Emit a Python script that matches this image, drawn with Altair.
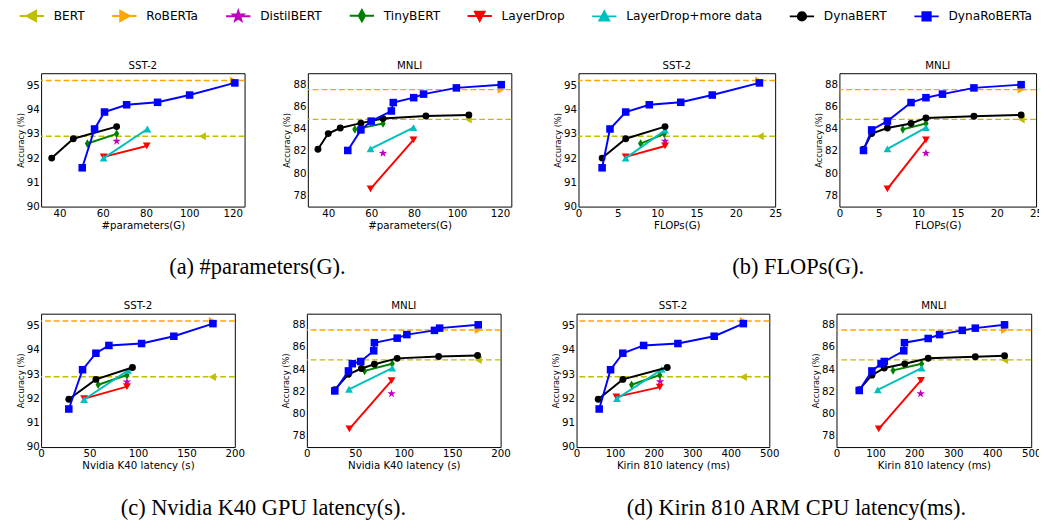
import altair as alt
import pandas as pd

MODELS = ["BERT", "RoBERTa", "DistilBERT", "TinyBERT", "LayerDrop",
          "LayerDrop+more data", "DynaBERT", "DynaRoBERTa"]
COLORS = ["#bfbf00", "#ffa500", "#bf00bf", "#008000", "#ff0000",
          "#00bfbf", "#000000", "#0000ff"]
STAR = ("M0,-1L0.235,-0.324L0.951,-0.309L0.38,0.124L0.588,0.809L0,0.4"
        "L-0.588,0.809L-0.38,0.124L-0.951,-0.309L-0.235,-0.324Z")
THIN_DIAMOND = "M0,-1L0.6,0L0,1L-0.6,0Z"
SHAPES = ["triangle-left", "triangle-right", STAR, THIN_DIAMOND,
          "triangle-down", "triangle-up", "circle", "square"]
SIZES = [70, 70, 80, 80, 65, 65, 50, 60]

# legend handles: a short line with the marker in its middle
HANDLE = "M-1,0L1,0"
LEGEND_SHAPES = [
    HANDLE + "M-0.42,0L0.34,-0.42L0.34,0.42Z",
    HANDLE + "M0.42,0L-0.34,-0.42L-0.34,0.42Z",
    HANDLE + ("M0,-0.44L0.1,-0.14L0.42,-0.14L0.17,0.05L0.26,0.36L0,0.18"
              "L-0.26,0.36L-0.17,0.05L-0.42,-0.14L-0.1,-0.14Z"),
    HANDLE + "M0,-0.46L0.26,0L0,0.46L-0.26,0Z",
    HANDLE + "M-0.4,-0.34L0.4,-0.34L0,0.42Z",
    HANDLE + "M-0.4,0.34L0.4,0.34L0,-0.42Z",
    HANDLE + "M-0.34,0A0.34,0.34,0,1,0,0.34,0A0.34,0.34,0,1,0,-0.34,0Z",
    HANDLE + "M-0.34,-0.34L0.34,-0.34L0.34,0.34L-0.34,0.34Z",
]

# baselines (BERT, RoBERTa) accuracy
SST2_BASE = [92.9, 95.2]
MNLI_BASE = [84.85, 87.53]

# (a) SST-2 vs #parameters
PARAMS_SST2 = {
    "BERT": ([106], [92.9]),
    "RoBERTa": ([120.3], [95.2]),
    "DistilBERT": ([66.4], [92.7]),
    "TinyBERT": ([52.9, 66.4], [92.6, 93.0]),
    "LayerDrop": ([60.4, 80.3], [92.05, 92.5]),
    "LayerDrop+more data": ([60.4, 80.6], [92.0, 93.2]),
    "DynaBERT": ([36.4, 46.4, 66.4], [92.0, 92.8, 93.3]),
    "DynaRoBERTa": ([50.5, 56.2, 60.8, 71, 85.3, 100.1, 121],
                    [91.6, 93.2, 93.9, 94.2, 94.3, 94.6, 95.1]),
}
# (a) MNLI vs #parameters
PARAMS_MNLI = {
    "BERT": ([105.2], [84.85]),
    "RoBERTa": ([120.6], [87.53]),
    "DistilBERT": ([65.5], [81.8]),
    "TinyBERT": ([52.4, 65.5], [83.95, 84.48]),
    "LayerDrop": ([59.7, 79.7], [78.6, 83.0]),
    "LayerDrop+more data": ([59.7, 79.7], [82.2, 84.1]),
    "DynaBERT": ([35.2, 40, 45.6, 55.2, 65.5, 85.5, 105.5],
                 [82.16, 83.57, 84.07, 84.51, 84.92, 85.15, 85.24]),
    "DynaRoBERTa": ([49.1, 55.2, 60, 69.4, 70.3, 79.8, 84.4, 99.7, 120.6],
                    [82.05, 83.9, 84.69, 85.6, 86.36, 86.8, 87.12, 87.68, 87.97]),
}
# (b) SST-2 vs FLOPs
FLOPS_SST2 = {
    "BERT": ([23.1], [92.9]),
    "RoBERTa": ([22.9], [95.2]),
    "DistilBERT": ([11], [92.7]),
    "TinyBERT": ([7.9, 10.9], [92.6, 93.0]),
    "LayerDrop": ([6, 11], [92.05, 92.5]),
    "LayerDrop+more data": ([6, 11], [92.0, 93.15]),
    "DynaBERT": ([3, 6, 11], [92.0, 92.8, 93.3]),
    "DynaRoBERTa": ([3, 4, 6, 9, 13, 17, 23],
                    [91.6, 93.2, 93.9, 94.2, 94.3, 94.6, 95.1]),
}
# (b) MNLI vs FLOPs
FLOPS_MNLI = {
    "BERT": ([23.1], [84.85]),
    "RoBERTa": ([23.1], [87.53]),
    "DistilBERT": ([11], [81.8]),
    "TinyBERT": ([8.06, 11], [83.95, 84.48]),
    "LayerDrop": ([6.1, 11], [78.6, 83.0]),
    "LayerDrop+more data": ([6.1, 11], [82.2, 84.1]),
    "DynaBERT": ([3.06, 4.1, 6.1, 9.1, 11, 17.1, 23.1],
                 [82.16, 83.57, 84.07, 84.48, 84.98, 85.13, 85.24]),
    "DynaRoBERTa": ([3.06, 4.1, 6.1, 9.1, 11, 13.1, 17.1, 23.1],
                    [82.05, 83.9, 84.69, 86.36, 86.8, 87.12, 87.68, 87.97]),
}
# (c) SST-2 vs Nvidia K40 latency
GPU_SST2 = {
    "BERT": ([176.8], [92.89]),
    "RoBERTa": ([176.8], [95.2]),
    "DistilBERT": ([88.6], [92.69]),
    "TinyBERT": ([58.9, 88.6], [92.57, 92.97]),
    "LayerDrop": ([44.4, 88.6], [92.0, 92.49]),
    "LayerDrop+more data": ([44.4, 89.9], [91.96, 93.16]),
    "DynaBERT": ([28.6, 56.6, 94.3], [91.97, 92.79, 93.28]),
    "DynaRoBERTa": ([28.6, 42.8, 56.6, 70, 103.7, 137, 177.4],
                    [91.57, 93.19, 93.87, 94.19, 94.27, 94.57, 95.09]),
}
# (c) MNLI vs Nvidia K40 latency
GPU_MNLI = {
    "BERT": ([176.9], [84.84]),
    "RoBERTa": ([176.9], [87.53]),
    "DistilBERT": ([87.4], [81.8]),
    "TinyBERT": ([59.6, 88.1], [83.85, 84.5]),
    "LayerDrop": ([43.9, 87.4], [78.64, 82.97]),
    "LayerDrop+more data": ([43.5, 88.1], [82.2, 84.1]),
    "DynaBERT": ([28.8, 42.9, 56.3, 69.7, 93.2, 136, 176.2],
                 [82.16, 83.55, 84.07, 84.45, 84.98, 85.15, 85.24]),
    "DynaRoBERTa": ([28.8, 42.9, 46.9, 55.6, 69, 69.7, 93.2, 103.2, 131.7, 137, 176.9],
                    [82.05, 83.85, 84.5, 84.7, 85.66, 86.39, 86.8, 87.12, 87.5, 87.7, 88.0]),
}
# (d) SST-2 vs Kirin 810 latency
CPU_SST2 = {
    "BERT": ([432.6], [92.89]),
    "RoBERTa": ([432.6], [95.2]),
    "DistilBERT": ([216.8], [92.7]),
    "TinyBERT": ([142.7, 215.8], [92.57, 92.97]),
    "LayerDrop": ([103.3, 215.8], [92.07, 92.47]),
    "LayerDrop+more data": ([104.9, 220.8], [92.0, 93.2]),
    "DynaBERT": ([56.2, 120, 235.2], [91.97, 92.79, 93.28]),
    "DynaRoBERTa": ([58.7, 88.2, 120, 173.9, 262.9, 357, 432.6],
                    [91.57, 93.19, 93.87, 94.19, 94.27, 94.57, 95.09]),
}
# (d) MNLI vs Kirin 810 latency
CPU_MNLI = {
    "BERT": ([431.5], [84.84]),
    "RoBERTa": ([431.5], [87.53]),
    "DistilBERT": ([216], [81.8]),
    "TinyBERT": ([145.2, 218.6], [83.9, 84.49]),
    "LayerDrop": ([108.4, 217], [78.64, 83.0]),
    "LayerDrop+more data": ([106, 218.6], [82.15, 84.1]),
    "DynaBERT": ([58.4, 90.9, 122.7, 175.3, 235.4, 356.4, 431.5],
                 [82.16, 83.47, 84.11, 84.49, 84.99, 85.13, 85.22]),
    "DynaRoBERTa": ([58.4, 90.9, 114.4, 122.7, 172.8, 174.5, 235.4, 264.6, 323, 356.4, 431.5],
                    [82.09, 83.85, 84.49, 84.7, 85.66, 86.39, 86.77, 87.12, 87.5, 87.7, 88.0]),
}

SST2_TICKS = [90, 91, 92, 93, 94, 95]
MNLI_TICKS = [78, 80, 82, 84, 86, 88]
SST2_DOMAIN = [90, 95.5]
MNLI_DOMAIN = [77, 89]

FONT = "DejaVu Sans"
SERIF = "Liberation Serif"

legend = alt.Legend(title=None, orient="none", legendX=-23, legendY=-73,
                    direction="horizontal",
                    labelFont=FONT, labelFontSize=12.5, labelColor="black",
                    symbolSize=625, symbolStrokeWidth=2, symbolOpacity=1,
                    columnPadding=24, labelOffset=9)
color_scale = alt.Scale(domain=MODELS, range=COLORS)
legend_shape_scale = alt.Scale(domain=MODELS, range=LEGEND_SHAPES)


def panel(data, base, title, xtitle, xdomain, xticks, ydomain, yticks, width,
          with_legend=False):
    rows = []
    for m in MODELS:
        xs, ys = data[m]
        for i, (x, y) in enumerate(zip(xs, ys)):
            rows.append({"model": m, "x": x, "y": y, "i": i})
    df = pd.DataFrame(rows)
    bdf = pd.DataFrame({"model": MODELS[:2], "y": base, "hex": COLORS[:2]})

    xenc = alt.X("x:Q", scale=alt.Scale(domain=xdomain, nice=False, zero=False),
                 axis=alt.Axis(values=xticks, title=xtitle))
    yenc = alt.Y("y:Q", scale=alt.Scale(domain=ydomain, nice=False, zero=False),
                 axis=alt.Axis(values=yticks, title="Accuracy (%)"))

    layers = [alt.Chart(bdf).mark_rule(strokeDash=[6, 3], strokeWidth=1.4).encode(
        y=yenc, color=alt.Color("hex:N", scale=None))]
    for m, c, s, sz in zip(MODELS, COLORS, SHAPES, SIZES):
        sub = alt.Chart(df).transform_filter(alt.datum.model == m)
        if len(data[m][0]) > 1:
            layers.append(sub.mark_line(color=c, strokeWidth=2).encode(
                x=xenc, y=yenc, order="i:Q"))
        layers.append(sub.mark_point(filled=True, opacity=1, size=sz, strokeWidth=0).encode(
            x=xenc, y=yenc, color=alt.value(c), shape=alt.value(s)))
    if with_legend:
        # invisible layer that only carries the shared legend
        layers.append(alt.Chart(df).mark_point(filled=True, opacity=0).encode(
            x=xenc, y=yenc,
            fill=alt.Fill("model:N", scale=color_scale, legend=legend),
            stroke=alt.Stroke("model:N", scale=color_scale, legend=legend),
            shape=alt.Shape("model:N", scale=legend_shape_scale, legend=legend)))
    return alt.layer(*layers).properties(width=width, height=137, title=title)


def caption(text, offset, dx=0):
    return alt.Title(text, orient="bottom", anchor="middle", font=SERIF,
                     fontSize=23, fontWeight="normal", color="black",
                     offset=offset, dx=dx)


a1 = panel(PARAMS_SST2, SST2_BASE, "SST-2", "#parameters(G)", [31.5, 125.5],
           [40, 60, 80, 100, 120], SST2_DOMAIN, SST2_TICKS, 209, with_legend=True)
a2 = panel(PARAMS_MNLI, MNLI_BASE, "MNLI", "#parameters(G)", [30.5, 125.3],
           [40, 60, 80, 100, 120], MNLI_DOMAIN, MNLI_TICKS, 209)
b1 = panel(FLOPS_SST2, SST2_BASE, "SST-2", "FLOPs(G)", [0, 25],
           [0, 5, 10, 15, 20, 25], SST2_DOMAIN, SST2_TICKS, 202)
b2 = panel(FLOPS_MNLI, MNLI_BASE, "MNLI", "FLOPs(G)", [0, 25],
           [0, 5, 10, 15, 20, 25], MNLI_DOMAIN, MNLI_TICKS, 202)
c1 = panel(GPU_SST2, SST2_BASE, "SST-2", "Nvidia K40 latency (s)", [0, 200],
           [0, 50, 100, 150, 200], SST2_DOMAIN, SST2_TICKS, 199)
c2 = panel(GPU_MNLI, MNLI_BASE, "MNLI", "Nvidia K40 latency (s)", [0, 200],
           [0, 50, 100, 150, 200], MNLI_DOMAIN, MNLI_TICKS, 199)
d1 = panel(CPU_SST2, SST2_BASE, "SST-2", "Kirin 810 latency (ms)", [0, 500],
           [0, 100, 200, 300, 400, 500], SST2_DOMAIN, SST2_TICKS, 198)
d2 = panel(CPU_MNLI, MNLI_BASE, "MNLI", "Kirin 810 latency (ms)", [0, 500],
           [0, 100, 200, 300, 400, 500], MNLI_DOMAIN, MNLI_TICKS, 200)

A = alt.hconcat(a1, a2, spacing=37).properties(title=caption("(a) #parameters(G).", 26, -7))
B = alt.hconcat(b1, b2, spacing=32).properties(title=caption("(b) FLOPs(G).", 26))
C = alt.hconcat(c1, c2, spacing=37).properties(title=caption("(c) Nvidia K40 GPU latency(s).", 26))
D = alt.hconcat(d1, d2, spacing=32).properties(title=caption("(d) Kirin 810 ARM CPU latency(ms).", 26))

row1 = alt.hconcat(A, B, spacing=41)
row2 = alt.hconcat(C, D, spacing=41)

chart = alt.vconcat(row1, row2, spacing=22).properties(
    padding={"left": 8, "top": -13, "right": -5, "bottom": -4}
).configure_view(
    stroke="black", strokeWidth=1
).configure_axis(
    grid=False, domain=False, ticks=False, labelFont=FONT, labelFontSize=10.5,
    labelColor="black", titleFont=FONT, titleColor="black", titleFontWeight="normal",
    labelFlush=False, labelOverlap=False, labelPadding=2
).configure_axisY(
    titleFontSize=8.5, titlePadding=1
).configure_axisX(
    titleFontSize=10.5, titlePadding=2
).configure_title(
    font=FONT, fontSize=10.5, fontWeight="normal", color="black", offset=2
).configure_legend(
    padding=0
)

chart.save("out.html", embed_options={"renderer": "svg", "actions": False})
